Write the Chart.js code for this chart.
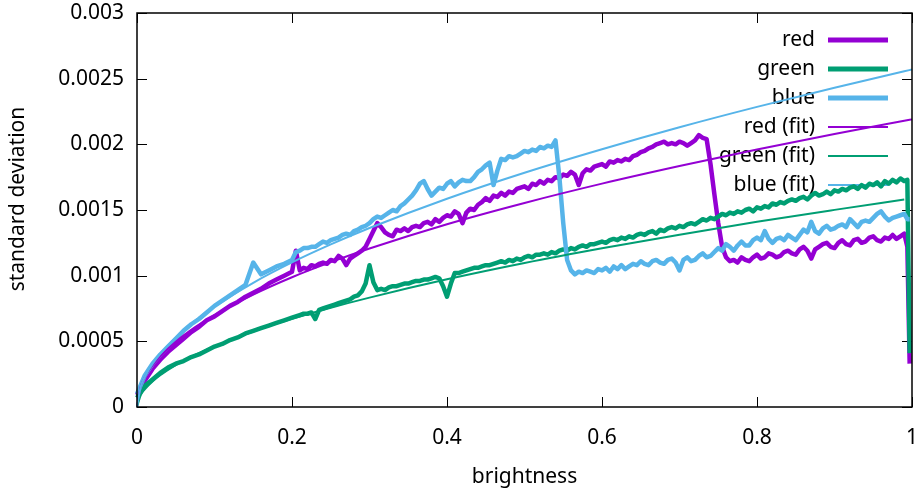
<!DOCTYPE html>
<html>
<head>
<meta charset="utf-8">
<title>standard deviation vs brightness</title>
<script src="https://cdn.jsdelivr.net/npm/chart.js@4.4.1/dist/chart.umd.min.js"></script>
<style>
  html, body { margin: 0; padding: 0; background: #fff; }
  canvas { display: block; }
</style>
</head>
<body>
<canvas id="noiseChart" width="922" height="492"></canvas>
<script>
const brightness = [
  0, 0.01, 0.02, 0.03, 0.04, 0.05, 0.06, 0.07, 0.08, 0.09,
  0.1, 0.11, 0.12, 0.13, 0.14, 0.15, 0.16, 0.17, 0.18, 0.19, 0.2,
  0.205, 0.21, 0.215, 0.22, 0.225, 0.23, 0.235, 0.24, 0.245, 0.25,
  0.255, 0.26, 0.265, 0.27, 0.275, 0.28, 0.285, 0.29, 0.295, 0.3,
  0.305, 0.31, 0.315, 0.32, 0.325, 0.33, 0.335, 0.34, 0.345, 0.35,
  0.355, 0.36, 0.365, 0.37, 0.375, 0.38, 0.385, 0.39, 0.395, 0.4,
  0.405, 0.41, 0.415, 0.42, 0.425, 0.43, 0.435, 0.44, 0.445, 0.45,
  0.455, 0.46, 0.465, 0.47, 0.475, 0.48, 0.485, 0.49, 0.495, 0.5,
  0.505, 0.51, 0.515, 0.52, 0.525, 0.53, 0.535, 0.54, 0.545, 0.55,
  0.555, 0.56, 0.565, 0.57, 0.575, 0.58, 0.585, 0.59, 0.595, 0.6,
  0.605, 0.61, 0.615, 0.62, 0.625, 0.63, 0.635, 0.64, 0.645, 0.65,
  0.655, 0.66, 0.665, 0.67, 0.675, 0.68, 0.685, 0.69, 0.695, 0.7,
  0.705, 0.71, 0.715, 0.72, 0.725, 0.73, 0.735, 0.74, 0.745, 0.75,
  0.755, 0.76, 0.765, 0.77, 0.775, 0.78, 0.785, 0.79, 0.795, 0.8,
  0.805, 0.81, 0.815, 0.82, 0.825, 0.83, 0.835, 0.84, 0.845, 0.85,
  0.855, 0.86, 0.865, 0.87, 0.875, 0.88, 0.885, 0.89, 0.895, 0.9,
  0.905, 0.91, 0.915, 0.92, 0.925, 0.93, 0.935, 0.94, 0.945, 0.95,
  0.955, 0.96, 0.965, 0.97, 0.975, 0.98, 0.985, 0.99,
  0.994, 0.997
];

const red = [
  0.00009, 0.00020, 0.00029, 0.00036, 0.00042, 0.00047, 0.00052, 0.00057, 0.00061, 0.00066,
  0.00069, 0.00073, 0.00077, 0.00080, 0.00084, 0.00087, 0.00090, 0.00094, 0.00097, 0.00100, 0.00103,
  0.00119, 0.00104, 0.00106, 0.00105, 0.00108, 0.00107, 0.00109, 0.00110, 0.00109, 0.00112,
  0.00111, 0.00115, 0.00113, 0.00108, 0.00113, 0.00115, 0.00117, 0.00119, 0.00122, 0.00128,
  0.00134, 0.00140, 0.00137, 0.00133, 0.00131, 0.00130, 0.00135, 0.00134, 0.00136, 0.00134,
  0.00137, 0.00138, 0.00137, 0.00140, 0.00141, 0.00139, 0.00143, 0.00141, 0.00144, 0.00146,
  0.00145, 0.00149, 0.00147, 0.00140, 0.00148, 0.00151, 0.00150, 0.00154, 0.00156, 0.00159,
  0.00157, 0.00161, 0.00160, 0.00163, 0.00161, 0.00164, 0.00163, 0.00166, 0.00167, 0.00168,
  0.00166, 0.00170, 0.00169, 0.00172, 0.00170, 0.00173, 0.00172, 0.00175, 0.00174, 0.00177,
  0.00176, 0.00179, 0.00177, 0.00169, 0.00178, 0.00181, 0.00180, 0.00183, 0.00184, 0.00185,
  0.00183, 0.00187, 0.00186, 0.00188, 0.00187, 0.00189, 0.00188, 0.00191, 0.00192, 0.00194,
  0.00195, 0.00197, 0.00198, 0.00200, 0.00201, 0.00202, 0.00200, 0.00201, 0.00200, 0.00202,
  0.00201, 0.00199, 0.00201, 0.00203, 0.00207, 0.00205, 0.00204, 0.00185, 0.00162, 0.00140,
  0.00122, 0.00114, 0.00111, 0.00112, 0.00110, 0.00114, 0.00112, 0.00111, 0.00114, 0.00116,
  0.00113, 0.00114, 0.00117, 0.00116, 0.00114, 0.00115, 0.00118, 0.00119, 0.00117, 0.00116,
  0.00120, 0.00122, 0.00119, 0.00113, 0.00120, 0.00122, 0.00124, 0.00125, 0.00122, 0.00121,
  0.00125, 0.00127, 0.00124, 0.00123, 0.00127, 0.00128, 0.00125, 0.00126, 0.00129, 0.00130,
  0.00127, 0.00126, 0.00129, 0.00128, 0.00131, 0.00128, 0.00130, 0.00132,
  0.00122, 0.00033
];

const green = [
  0.00007, 0.00016, 0.00021, 0.00026, 0.00030, 0.00033, 0.00035, 0.00038, 0.00040, 0.00043,
  0.00046, 0.00048, 0.00051, 0.00053, 0.00056, 0.00058, 0.00060, 0.00062, 0.00064, 0.00066, 0.00068,
  0.00069, 0.00070, 0.00071, 0.00071, 0.00072, 0.00067, 0.00074, 0.00075, 0.00076, 0.00077,
  0.00078, 0.00079, 0.00080, 0.00081, 0.00082, 0.00084, 0.00085, 0.00088, 0.00094, 0.00108,
  0.00095, 0.00089, 0.00090, 0.00089, 0.00091, 0.00092, 0.00092, 0.00093, 0.00094, 0.00094,
  0.00095, 0.00096, 0.00096, 0.00097, 0.00097, 0.00098, 0.00099, 0.00098, 0.00092, 0.00084,
  0.00094, 0.00102, 0.00102, 0.00103, 0.00104, 0.00105, 0.00106, 0.00106, 0.00107, 0.00108,
  0.00108, 0.00109, 0.00110, 0.00111, 0.00110, 0.00112, 0.00111, 0.00113, 0.00112, 0.00114,
  0.00115, 0.00114, 0.00116, 0.00116, 0.00117, 0.00116, 0.00118, 0.00117, 0.00119, 0.00120,
  0.00119, 0.00121, 0.00120, 0.00122, 0.00123, 0.00122, 0.00124, 0.00124, 0.00125, 0.00126,
  0.00125, 0.00127, 0.00128, 0.00127, 0.00129, 0.00128, 0.00130, 0.00129, 0.00131, 0.00132,
  0.00131, 0.00133, 0.00134, 0.00132, 0.00135, 0.00134, 0.00136, 0.00137, 0.00136, 0.00138,
  0.00137, 0.00139, 0.00140, 0.00139, 0.00141, 0.00143, 0.00142, 0.00144, 0.00143, 0.00145,
  0.00147, 0.00146, 0.00148, 0.00147, 0.00149, 0.00148, 0.00150, 0.00151, 0.00149, 0.00152,
  0.00151, 0.00153, 0.00152, 0.00155, 0.00154, 0.00156, 0.00155, 0.00157, 0.00158, 0.00157,
  0.00159, 0.00160, 0.00158, 0.00161, 0.00163, 0.00161, 0.00162, 0.00164, 0.00162, 0.00165,
  0.00164, 0.00166, 0.00165, 0.00167, 0.00168, 0.00166, 0.00169, 0.00167, 0.00170, 0.00169,
  0.00171, 0.00168, 0.00172, 0.00170, 0.00173, 0.00171, 0.00174, 0.00172,
  0.00173, 0.00041
];

const blue = [
  0.00010, 0.00024, 0.00033, 0.00040, 0.00046, 0.00052, 0.00058, 0.00063, 0.00067, 0.00072,
  0.00077, 0.00081, 0.00085, 0.00089, 0.00093, 0.00110, 0.00101, 0.00104, 0.00107, 0.00109, 0.00112,
  0.00118, 0.00119, 0.00121, 0.00121, 0.00122, 0.00122, 0.00124, 0.00126, 0.00125, 0.00127,
  0.00128, 0.00129, 0.00131, 0.00132, 0.00131, 0.00134, 0.00135, 0.00137, 0.00138, 0.00140,
  0.00143, 0.00145, 0.00144, 0.00146, 0.00148, 0.00150, 0.00149, 0.00153, 0.00155, 0.00158,
  0.00161, 0.00165, 0.00170, 0.00172, 0.00166, 0.00161, 0.00164, 0.00167, 0.00166, 0.00170,
  0.00172, 0.00168, 0.00171, 0.00173, 0.00172, 0.00172, 0.00175, 0.00179, 0.00181, 0.00184,
  0.00186, 0.00169, 0.00180, 0.00189, 0.00188, 0.00191, 0.00190, 0.00191, 0.00193, 0.00195,
  0.00194, 0.00196, 0.00195, 0.00198, 0.00197, 0.00199, 0.00198, 0.00203, 0.00175, 0.00140,
  0.00112, 0.00104, 0.00101, 0.00103, 0.00102, 0.00104, 0.00103, 0.00102, 0.00105, 0.00104,
  0.00106, 0.00103, 0.00107, 0.00105, 0.00108, 0.00105, 0.00107, 0.00109, 0.00108, 0.00111,
  0.00109, 0.00108, 0.00111, 0.00112, 0.00110, 0.00109, 0.00112, 0.00113, 0.00110, 0.00104,
  0.00112, 0.00114, 0.00111, 0.00112, 0.00115, 0.00117, 0.00114, 0.00115, 0.00118, 0.00121,
  0.00119, 0.00124, 0.00122, 0.00119, 0.00123, 0.00126, 0.00123, 0.00123, 0.00127, 0.00129,
  0.00127, 0.00134, 0.00128, 0.00125, 0.00128, 0.00129, 0.00127, 0.00131, 0.00129, 0.00127,
  0.00131, 0.00135, 0.00133, 0.00141, 0.00134, 0.00132, 0.00136, 0.00138, 0.00135, 0.00136,
  0.00138, 0.00139, 0.00137, 0.00143, 0.00140, 0.00137, 0.00141, 0.00142, 0.00141, 0.00144,
  0.00147, 0.00149, 0.00145, 0.00142, 0.00144, 0.00145, 0.00146, 0.00147,
  0.00143, 0.00143
];

// fitted curves, sampled off the plot
const fitBrightness = [0, 0.005, 0.01, 0.02, 0.03, 0.05, 0.075, 0.1, 0.15, 0.2, 0.25, 0.3, 0.4, 0.5, 0.6, 0.7, 0.8, 0.9, 0.99, 1];
const redFit   = [0, 0.000159, 0.000224, 0.000316, 0.000386, 0.000497, 0.000608, 0.0007, 0.000856, 0.000988, 0.001103, 0.001207, 0.001392, 0.001554, 0.001701, 0.001835, 0.001961, 0.002079, 0.002179, 0.00219];
const greenFit = [0, 0.000093, 0.000135, 0.000195, 0.000242, 0.000319, 0.000397, 0.000462, 0.000575, 0.000671, 0.000756, 0.000833, 0.000972, 0.001096, 0.001208, 0.001312, 0.00141, 0.001501, 0.00158, null];
const blueFit  = [0, 0.000158, 0.000227, 0.000327, 0.000405, 0.00053, 0.000656, 0.000764, 0.000946, 0.001101, 0.001238, 0.001363, 0.001586, 0.001784, 0.001963, 0.00213, 0.002285, 0.002431, 0.002556, 0.00257];

const xTicks = [0, 0.2, 0.4, 0.6, 0.8, 1];
const yTicks = [0, 0.0005, 0.001, 0.0015, 0.002, 0.0025, 0.003];

const PURPLE = '#9400d3';
const GREEN = '#009e73';
const BLUE = '#56b4e9';
const FONT = 'Noto Sans';
const FONT_SIZE = 21;
const TICK = 10;

const pts = (xs, ys) => xs.map((x, i) => ({x: x, y: ys[i]}));

const legendItems = [
  {label: 'red', color: PURPLE, width: 5},
  {label: 'green', color: GREEN, width: 5},
  {label: 'blue', color: BLUE, width: 5},
  {label: 'red (fit)', color: PURPLE, width: 2},
  {label: 'green (fit)', color: GREEN, width: 2},
  {label: 'blue (fit)', color: BLUE, width: 2}
];

// gnuplot look: inward ticks on all four sides, boxed border, key on the right
const gnuplotFrame = {
  id: 'gnuplotFrame',
  beforeDatasetsDraw(chart) {
    const {ctx, chartArea: a, scales: {x, y}} = chart;
    ctx.save();
    ctx.strokeStyle = '#000';
    ctx.lineWidth = 1;
    ctx.beginPath();
    xTicks.forEach(v => {
      const px = Math.round(x.getPixelForValue(v)) + 0.5;
      ctx.moveTo(px, a.bottom); ctx.lineTo(px, a.bottom - TICK);
      ctx.moveTo(px, a.top); ctx.lineTo(px, a.top + TICK);
    });
    yTicks.forEach(v => {
      const py = Math.round(y.getPixelForValue(v)) + 0.5;
      ctx.moveTo(a.left, py); ctx.lineTo(a.left + TICK, py);
      ctx.moveTo(a.right, py); ctx.lineTo(a.right - TICK, py);
    });
    ctx.stroke();

    // key
    ctx.font = FONT_SIZE + 'px "' + FONT + '"';
    ctx.fillStyle = '#000';
    ctx.textAlign = 'right';
    ctx.textBaseline = 'middle';
    legendItems.forEach((it, i) => {
      const ly = 40 + i * 29;
      ctx.fillText(it.label, 815, ly);
      ctx.beginPath();
      ctx.strokeStyle = it.color;
      ctx.lineWidth = it.width;
      ctx.moveTo(828, ly);
      ctx.lineTo(888, ly);
      ctx.stroke();
    });

    // y axis title
    ctx.save();
    ctx.translate(18, 199);
    ctx.rotate(-Math.PI / 2);
    ctx.textAlign = 'center';
    ctx.fillStyle = '#000';
    ctx.fillText('standard deviation', 0, 0);
    ctx.restore();
    ctx.restore();
  },
  afterDatasetsDraw(chart) {
    const {ctx, chartArea: a} = chart;
    ctx.save();
    ctx.strokeStyle = '#000';
    ctx.lineWidth = 1.5;
    ctx.strokeRect(a.left, a.top, a.right - a.left, a.bottom - a.top);
    ctx.restore();
  }
};

const dataLine = (label, xs, ys, color, width, order) => ({
  label: label,
  data: pts(xs, ys),
  borderColor: color,
  backgroundColor: color,
  borderWidth: width,
  borderJoinStyle: 'round',
  pointRadius: 0,
  fill: false,
  tension: 0,
  clip: 4,
  order: order
});

const noEdgePadding = s => {
  s.paddingTop = 0; s.paddingBottom = 0; s.paddingLeft = 0; s.paddingRight = 0;
};

new Chart(document.getElementById('noiseChart'), {
  type: 'line',
  data: {
    datasets: [
      dataLine('red', brightness, red, PURPLE, 4.5, 6),
      dataLine('green', brightness, green, GREEN, 4.5, 5),
      dataLine('blue', brightness, blue, BLUE, 4.5, 4),
      Object.assign(dataLine('red (fit)', fitBrightness, redFit, PURPLE, 2, 3), {cubicInterpolationMode: 'monotone'}),
      Object.assign(dataLine('green (fit)', fitBrightness, greenFit, GREEN, 2, 2), {cubicInterpolationMode: 'monotone'}),
      Object.assign(dataLine('blue (fit)', fitBrightness, blueFit, BLUE, 2, 1), {cubicInterpolationMode: 'monotone'})
    ]
  },
  options: {
    responsive: false,
    animation: false,
    devicePixelRatio: 1,
    events: [],
    layout: {padding: {top: 13, right: 10, left: 0, bottom: 0}},
    plugins: {legend: {display: false}, tooltip: {enabled: false}},
    scales: {
      x: {
        type: 'linear',
        min: 0,
        max: 1,
        grid: {display: false, drawTicks: false},
        border: {display: false},
        afterBuildTicks: s => { s.ticks = xTicks.map(v => ({value: v})); },
        afterFit: s => { s.height = 85; noEdgePadding(s); },
        ticks: {
          padding: 18,
          color: '#000',
          font: {family: FONT, size: FONT_SIZE},
          maxRotation: 0,
          callback: v => String(+v.toFixed(2))
        },
        title: {
          display: true,
          text: 'brightness',
          color: '#000',
          font: {family: FONT, size: FONT_SIZE},
          padding: {top: 0, bottom: 2}
        }
      },
      y: {
        type: 'linear',
        min: 0,
        max: 0.003,
        grid: {display: false, drawTicks: false},
        border: {display: false},
        afterBuildTicks: s => { s.ticks = yTicks.map(v => ({value: v})); },
        afterFit: s => { s.width = 137; noEdgePadding(s); },
        ticks: {
          padding: 13,
          color: '#000',
          font: {family: FONT, size: FONT_SIZE},
          callback: v => String(+v.toFixed(4))
        }
      }
    }
  },
  plugins: [gnuplotFrame]
});
</script>
</body>
</html>
